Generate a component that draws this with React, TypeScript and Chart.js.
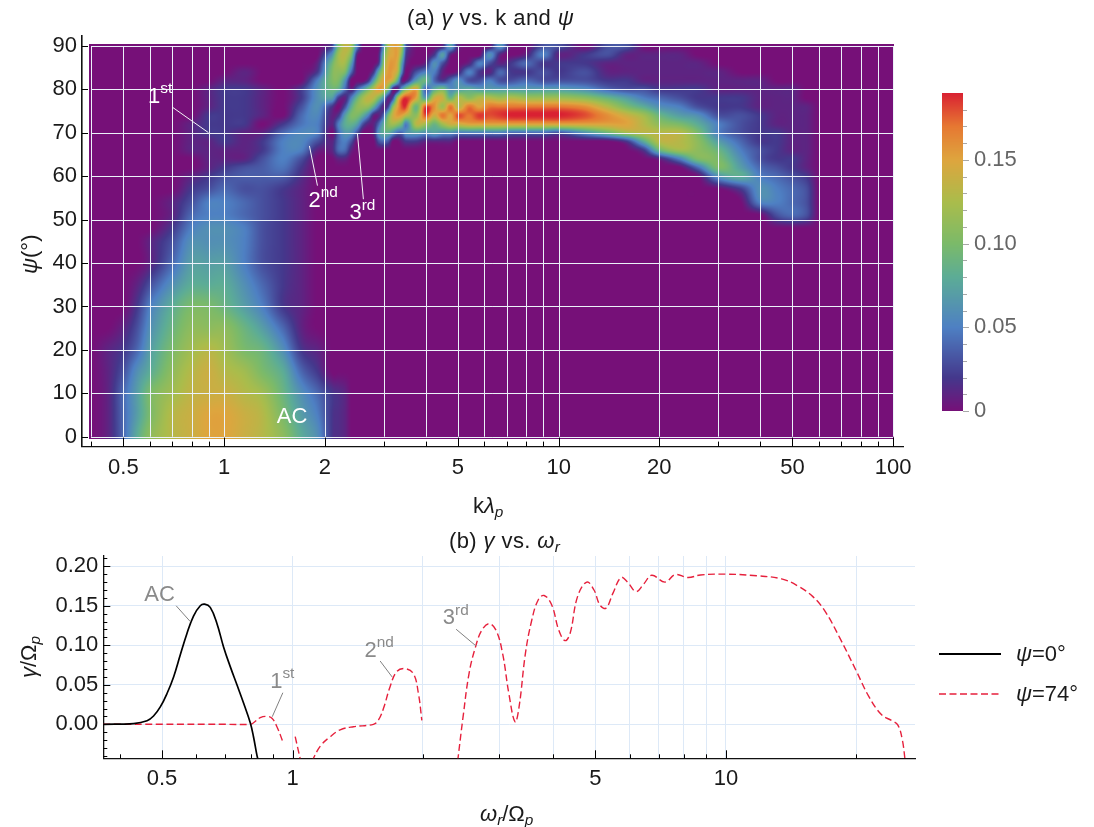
import React, { useEffect, useRef } from "react";
import { Chart, registerables } from "chart.js";

Chart.register(...registerables);

const FONT = '"Liberation Sans"';
Chart.defaults.font.family = FONT;

// ---------- panel (a): growth rate grid (values in units of 0.01) ----------
const kGrid = [
  0.4, 0.45, 0.5, 0.55, 0.6, 0.7, 0.8, 0.9, 1, 1.15, 1.3, 1.5, 1.7, 1.9, 2.1,
  2.2, 2.3, 2.4, 2.5, 2.6, 2.7, 2.8, 2.9, 3, 3.1, 3.2, 3.3, 3.4, 3.5,
  3.75, 4, 4.25, 4.5, 4.75, 5, 5.4, 5.8, 6.2, 6.7, 7.2, 8, 9, 10, 12, 14, 16, 18, 20, 23, 26,
  30, 35, 40, 45, 50, 55, 60, 70, 100,
];
const psiGrid = [90, 88, 86, 84, 82, 80, 78, 76, 74, 72, 70, 68, 66, 64, 62, 60, 57, 54, 51, 48, 45, 40, 35, 30, 25, 20, 15, 10, 5, 0];
const gammaGrid: number[][] = [
  [0,0,0,0,0, 0,0,0,0,0, 0,0,0,0,2, 10,13.5,12,5,0,0,0,0,6,13,15,15,12,3, 0,0,0, 1,7,1,0,0, 0,6,0,0,3, 3,0,3,3,0],
  [0,0,0,0,0, 0,0,0,0,0, 0,0,0,0,6, 12,13,10,1,0,0,0,1,9,14,15,15,10,2, 0,0,2, 7,1,0,0,0, 6,1,0,1,5, 1,2,3,1,1, 1,1],
  [0,0,0,0,0, 0,0,0,0,0, 0,0,0,1,9, 12,12,7,0,0,0,0,2,11,15,15.5,14,7,1, 0,1,6, 3,0,0,1,5, 3,1,2,4,2, 2,2,1,1,1, 1,1,1],
  [0,0,0,0,0, 0,0,0,0,1, 0,0,0,2,10, 11,10,4,0,0,0,2,8,13,15.5,15,13,5,0, 3,5,5, 1,0,1,5,2, 1,4,2,2,3, 2,3,1,1,1, 1,1,1,1],
  [0,0,0,0,0, 0,0,0,1,1, 0,0,0,5,10, 10,6,0,0,0,2,7,12,15,15,13,8,1,1, 7,9,4, 2,4,6,3,3, 5,3,3,4,3, 3,3,2,2,1, 1,1,1,1,1, 1],
  [0,0,0,0,0, 0,0,1,2,2, 1,0,2,6,9, 8,4,1,4,7,10,13,15.5,14,9,1,1,7,11, 15,4,8, 10,6,7,8,7, 7,7,7,7,7, 7,6,4,3,3, 2,2,2,1,1, 1,1,1],
  [0,0,0,0,0, 0,0,1,2,2, 1,0,2,6,7, 2,1,5,9,12,13.5,13,10,6,1,3,12,17,18.5, 15,7,14, 14,9,13,11,13, 13,12,13,12,12, 12,11,9,7,5, 4,3,2,2,2, 1,1,1],
  [0,0,0,0,0, 0,0,1,2,2, 1,0,3,6,2, 0,3,8,11,11.5,11,8,4,1,3,11,15,18,18, 9,18,16, 12,17,13,17,15, 17,17,17,17,17, 17,16,13,10,8, 6,5,3,2,2, 1,1,1,1],
  [0,0,0,0,0, 0,0,2,2,2, 1,0,4,5.5,1, 2,7,10,10,8,5,1,1,4,10,14,15.5,15,13, 11,18,14, 17,15,18,17,18.5, 18,18.5,19,19,19, 19,18,16,14,12, 9,7,6,3,3, 2,1,1,1],
  [0,0,0,0,0, 0,1,2,2,2, 0,2,4.5,5,1, 5,8,8.5,7,3,1,1,4,8,11,12,11,9,5, 13,12,9, 12,14,14,15,15, 15,15,15,15,15, 15,15,15,15,13, 11,10,8,5,3, 2,1,1,1],
  [0,0,0,0,0, 0,1,2,2,1, 1,4,5.5,5,0, 4,6.5,6,3,0,0,1,6,8,8,6,4,4,6, 7,6,7, 6,6,5,5,5, 5,5,4,4,4, 3,6,9,12,13, 13,13,10,5,3, 2,2,1,1],
  [0,0,0,0,0, 0,1,1,2,1, 2,5,5.5,3,1, 4,5,3,0,0,0,0,3,4,3,0,0,1,2, 2,1,1, 1,1,0,0,0, 0,0,0,0,0, 0,0,0,2,8, 13,13,11,7,4, 2,2,1,1],
  [0,0,0,0,0, 0,1,1,1,1, 2,5,5,1,1, 4,4,1,0,0,0,0,0,0,0,0,0,0,0, 0,0,0, 0,0,0,0,0, 0,0,0,0,0, 0,0,0,0,2, 9,12,11,9,5, 3,2,1,1],
  [0,0,0,0,0, 0,0,1,1,1, 3,5,3,0,0, 1,1,0,0,0,0,0,0,0,0,0,0,0,0, 0,0,0, 0,0,0,0,0, 0,0,0,0,0, 0,0,0,0,0, 1,5,10,10,6, 3,2,2,1],
  [0,0,0,0,0, 0,0,1,2,3, 3.5,4.5,2,0,0, 0,0,0,0,0,0,0,0,0,0,0,0,0,0, 0,0,0, 0,0,0,0,0, 0,0,0,0,0, 0,0,0,0,0, 0,0,4,10,7, 4,3,2,1],
  [0,0,0,0,0, 0,1,2,3,3.5, 3.5,3.5,1.5,0,0, 0,0,0,0,0,0,0,0,0,0,0,0,0,0, 0,0,0, 0,0,0,0,0, 0,0,0,0,0, 0,0,0,0,0, 0,0,0,6,8, 5,4,3,2],
  [0,0,0,0,0, 0,2,3,4,3, 3,2,1,0,0, 0,0,0,0,0,0,0,0,0,0,0,0,0,0, 0,0,0, 0,0,0,0,0, 0,0,0,0,0, 0,0,0,0,0, 0,0,0,0,2, 6,5,4,3],
  [0,0,0,0,0, 1,3,5,5,4, 3,2,1,0,0, 0,0,0,0,0,0,0,0,0,0,0,0,0,0, 0,0,0, 0,0,0,0,0, 0,0,0,0,0, 0,0,0,0,0, 0,0,0,0,0, 5,5,4,3],
  [0,0,0,0,0, 1,4,5,5,4, 3,2,1,0,0, 0,0,0,0,0,0,0,0,0,0,0,0,0,0, 0,0,0, 0,0,0,0,0, 0,0,0,0,0, 0,0,0,0,0, 0,0,0,0,0, 0,3,4,3],
  [0,0,0,0,0, 2,5,6,6,5, 3,2,1],
  [0,0,0,0,1, 3,6,6,6,5, 3,2,1],
  [0,0,0,0,1, 4,7,7,7,5, 3,2,1],
  [0,0,0,1,3, 6,8,8,8,6, 4,2,1],
  [0,0,0,2,5, 8,10,10,9,7, 5,2,1],
  [0,0,1,3,6, 9,11,11,11,9, 7,4,1],
  [0,1,2,4,7, 10,12,13,12,10, 9,6,2,1],
  [0,1,3,6,8, 11,13,14,13,12, 10,8,4,2],
  [0,1,4,7,10, 12,13.5,14,14,13, 12,9,6,4,2, 1.5,1],
  [0,1,4,7,10, 13,14,15,15,14, 13,10,7,5,2, 1.5,1],
  [0,1,4,8,11, 13,14,15,15,14, 13,11,8,6,2, 1.5,1],
];
const kTicks = [0.4, 0.5, 0.6, 0.7, 0.8, 0.9, 1, 2, 3, 4, 5, 6, 7, 8, 9, 10, 20, 30, 40, 50, 60, 70, 80, 90, 100];
const kLabels = [0.5, 1, 2, 5, 10, 20, 50, 100];
const psiTicks = [0, 10, 20, 30, 40, 50, 60, 70, 80, 90];

// ---------- colour bar ----------
const barTicks = [0, 0.05, 0.1, 0.15];
const barMinorTicks = [0.01, 0.02, 0.03, 0.04, 0.06, 0.07, 0.08, 0.09, 0.11, 0.12, 0.13, 0.14, 0.16, 0.17, 0.18];
const colorValues = [0, 0.02, 0.05, 0.08, 0.1, 0.125, 0.15, 0.17, 0.19];
const colorRGB = [
  [118, 16, 120], [68, 56, 140], [78, 128, 195], [92, 172, 150], [123, 186, 105],
  [170, 188, 75], [222, 165, 62], [230, 120, 50], [217, 33, 50],
];

// ---------- panel (b) ----------
const w0 = [0.366, 0.43, 0.4618, 0.478, 0.4954, 0.5134, 0.5317, 0.551, 0.5708, 0.591, 0.6126, 0.627, 0.646, 0.669, 0.6933, 0.7184, 0.7444, 0.771, 0.799, 0.813, 0.8277, 0.8366];
const g0 = [0, 0.001, 0.0046, 0.0105, 0.022, 0.039, 0.06, 0.088, 0.115, 0.137, 0.15, 0.152, 0.148, 0.128, 0.098, 0.073, 0.05, 0.027, 0.002, -0.016, -0.039, -0.049];
const w74 = [
  0.366, 0.5, 0.7, 0.799, 0.813, 0.8425, 0.873, 0.8965, 0.9205, 0.953, 0.98, 1.0144, 1.045, 1.07, 1.108, 1.158, 1.222, 1.288, 1.382, 1.537, 1.579, 1.621, 1.68,
  1.741, 1.819, 1.901, 1.952, 1.988, 2.2, 2.404, 2.475, 2.555, 2.644, 2.733, 2.841, 2.949, 3.052, 3.156, 3.262, 3.332, 3.447, 3.565, 3.686, 3.805,
  3.964, 4.115, 4.254, 4.369, 4.546, 4.774, 4.961, 5.12, 5.287, 5.488, 5.726, 5.929, 6.203, 6.469, 6.742, 7.234, 7.643, 8.176, 8.73, 10, 11.77,
  13.44, 14.66, 15.87, 16.95, 18.32, 20.02, 21.37, 22.86, 24.15, 24.93, 25.53, 25.92,
];
const g74: (number | null)[] = [
  0, 0, 0, 0, 0.002, 0.0084, 0.01, 0.0076, -0.003, -0.024, null, -0.0156, -0.047, null, -0.047, -0.028, -0.0156, -0.007, -0.003, 0, 0.0055, 0.02, 0.048,
  0.067, 0.0705, 0.064, 0.039, 0.005, null, -0.047, 0.0097, 0.0646, 0.098, 0.119, 0.1274, 0.119, 0.09, 0.039, 0.003, 0.022, 0.09, 0.132, 0.157, 0.163,
  0.151, 0.119, 0.106, 0.115, 0.1616, 0.18, 0.17, 0.151, 0.147, 0.166, 0.1857, 0.18, 0.168, 0.178, 0.1886, 0.18, 0.1895, 0.1857, 0.189, 0.19, 0.188,
  0.184, 0.175, 0.1616, 0.1426, 0.109, 0.0667, 0.035, 0.012, 0.0046, -0.001, -0.02, -0.047,
];
const wGridTicks = [0.5, 1, 2, 3, 4, 5, 6, 7, 8, 9, 10, 20];
const wMarks = [0.4, 0.5, 0.6, 0.7, 0.8, 0.9, 1, 2, 3, 4, 5, 6, 7, 8, 9, 10, 20];
const wLabels = [0.5, 1, 5, 10];
const gammaTicks = [0, 0.05, 0.1, 0.15, 0.2];
const gammaMinor = [-0.04, -0.03, -0.02, -0.01, 0.01, 0.02, 0.03, 0.04, 0.06, 0.07, 0.08, 0.09, 0.11, 0.12, 0.13, 0.14, 0.16, 0.17, 0.18, 0.19, 0.21];

// ---------- text ----------
type Seg = { t: string; i?: boolean; sub?: boolean; sup?: boolean };
const ord = (n: string, s: string): Seg[] => [{ t: n }, { t: s, sup: true }];
const topNotes: { text: Seg[]; k: number; psi: number }[] = [
  { text: ord("1", "st"), k: 0.5925, psi: 76.96 },
  { text: ord("2", "nd"), k: 1.787, psi: 53.0 },
  { text: ord("3", "rd"), k: 2.37, psi: 50.1 },
  { text: [{ t: "AC" }], k: 1.437, psi: 3.23 },
];
const topLeaders = [
  [0.7004, 75.9, 0.8976, 70.05],
  [1.799, 66.98, 1.901, 57.83],
  [2.503, 69.9, 2.608, 54.7],
];
const botNotes: { text: Seg[]; w: number; g: number }[] = [
  { text: [{ t: "AC" }], w: 0.455, g: 0.1565 },
  { text: ord("1", "st"), w: 0.888, g: 0.0463 },
  { text: ord("2", "nd"), w: 1.466, g: 0.0856 },
  { text: ord("3", "rd"), w: 2.222, g: 0.1266 },
];
const botLeaders = [
  [0.539, 0.15, 0.581, 0.13],
  [0.95, 0.04, 0.898, 0.0096],
  [1.593, 0.0801, 1.698, 0.0599],
  [2.385, 0.1203, 2.652, 0.0991],
];

function drawRich(ctx: CanvasRenderingContext2D, segs: Seg[], x: number, y: number, size: number, color: string, rot = 0, spacing = 0) {
  ctx.save();
  ctx.translate(x, y);
  ctx.rotate(rot);
  ctx.fillStyle = color;
  ctx.textAlign = "left";
  ctx.textBaseline = "alphabetic";
  (ctx as any).letterSpacing = `${spacing}px`;
  let cx = 0;
  for (const s of segs) {
    const small = s.sub || s.sup;
    ctx.font = `${s.i ? "italic " : ""}${small ? size * 0.7 : size}px ${FONT}`;
    ctx.fillText(s.t, cx, s.sub ? size * 0.2 : s.sup ? -size * 0.42 : 0);
    cx += ctx.measureText(s.t).width;
  }
  ctx.restore();
}

function colorAt(v: number): number[] {
  if (v <= colorValues[0]) return colorRGB[0];
  for (let i = 1; i < colorValues.length; i++) {
    if (v <= colorValues[i]) {
      const t = (v - colorValues[i - 1]) / (colorValues[i] - colorValues[i - 1]);
      return colorRGB[i].map((c, n) => colorRGB[i - 1][n] + (c - colorRGB[i - 1][n]) * t);
    }
  }
  return colorRGB[colorRGB.length - 1];
}

function tickLine(ctx: CanvasRenderingContext2D, x0: number, y0: number, x1: number, y1: number) {
  ctx.beginPath();
  ctx.moveTo(x0, y0);
  ctx.lineTo(x1, y1);
  ctx.stroke();
}

const smoothWeights = (t: number) => [
  -0.5 * t + t * t - 0.5 * t * t * t,
  1 - 2.5 * t * t + 1.5 * t * t * t,
  0.5 * t + 2 * t * t - 1.5 * t * t * t,
  -0.5 * t * t + 0.5 * t * t * t,
];
const zeroPad = (y: any) => ((y.paddingTop = 0), (y.paddingBottom = 0), (y.paddingLeft = 0), (y.paddingRight = 0));

// the heat map: every pixel is looked up in the grid through the chart's own scales
const heatPlugin = {
  id: "heat",
  beforeDraw(chart: any) {
    const { x, y } = chart.scales;
    const ctx = chart.ctx;
    const x0 = Math.round(x.getPixelForValue(0.395));
    const x1 = Math.round(x.getPixelForValue(100.5));
    const y0 = Math.round(y.getPixelForValue(90.5));
    const y1 = Math.round(y.getPixelForValue(-0.55));
    const W = x1 - x0;
    const H = y1 - y0;
    const off = document.createElement("canvas");
    off.width = W;
    off.height = H;
    const octx = off.getContext("2d")!;
    const img = octx.createImageData(W, H);
    const nk = kGrid.length;
    const np = psiGrid.length;
    const dense = gammaGrid.map((r) => kGrid.map((_, i) => r[i] ?? 0));
    const lk = kGrid.map((k) => Math.log10(k));
    const cols: { i: number; w: number[] }[] = [];
    for (let px = 0; px < W; px++) {
      const v = Math.log10(x.getValueForPixel(x0 + px + 0.5));
      let i = 0;
      while (i < nk - 2 && lk[i + 1] < v) i++;
      const t = Math.min(1, Math.max(0, (v - lk[i]) / (lk[i + 1] - lk[i])));
      cols.push({ i, w: smoothWeights(t) });
    }
    const line = new Float64Array(nk);
    for (let py = 0; py < H; py++) {
      const p = y.getValueForPixel(y0 + py + 0.5);
      let j = 0;
      while (j < np - 2 && psiGrid[j + 1] > p) j++;
      const u = Math.min(1, Math.max(0, (psiGrid[j] - p) / (psiGrid[j] - psiGrid[j + 1])));
      const wr = smoothWeights(u);
      const r0 = dense[Math.max(0, j - 1)];
      const r1 = dense[j];
      const r2 = dense[j + 1];
      const r3 = dense[Math.min(np - 1, j + 2)];
      for (let n = 0; n < nk; n++) line[n] = r0[n] * wr[0] + r1[n] * wr[1] + r2[n] * wr[2] + r3[n] * wr[3];
      for (let px = 0; px < W; px++) {
        const { i, w } = cols[px];
        const val =
          line[Math.max(0, i - 1)] * w[0] + line[i] * w[1] + line[i + 1] * w[2] + line[Math.min(nk - 1, i + 2)] * w[3];
        const c = colorAt(val * 0.01);
        const o = (py * W + px) * 4;
        img.data[o] = c[0];
        img.data[o + 1] = c[1];
        img.data[o + 2] = c[2];
        img.data[o + 3] = 255;
      }
    }
    octx.putImageData(img, 0, 0);
    ctx.drawImage(off, x0, y0);
    // white mesh, only inside the frame of the image
    ctx.save();
    ctx.strokeStyle = "#ebf1f9";
    ctx.lineWidth = 1;
    const gx0 = x.getPixelForValue(kTicks[0]);
    const gx1 = x.getPixelForValue(kTicks[kTicks.length - 1]);
    const gy0 = y.getPixelForValue(psiTicks[0]);
    const gy1 = y.getPixelForValue(psiTicks[psiTicks.length - 1]);
    for (const t of kTicks) {
      const px = Math.round(x.getPixelForValue(t)) + 0.5;
      tickLine(ctx, px, gy0, px, gy1);
    }
    for (const t of psiTicks) {
      const py = Math.round(y.getPixelForValue(t)) + 0.5;
      tickLine(ctx, gx0, py, gx1, py);
    }
    ctx.restore();
  },
  afterDraw(chart: any) {
    const { x, y } = chart.scales;
    const ctx = chart.ctx;
    const { left, bottom } = chart.chartArea;
    ctx.save();
    ctx.strokeStyle = "#000";
    ctx.lineWidth = 1;
    for (const t of kTicks) {
      const px = Math.round(x.getPixelForValue(t)) + 0.5;
      tickLine(ctx, px, bottom, px, bottom - (kLabels.includes(t) ? 9 : 5));
    }
    for (const t of psiTicks) {
      const py = Math.round(y.getPixelForValue(t)) + 0.5;
      tickLine(ctx, left, py, left + 6, py);
    }
    ctx.strokeStyle = "#f4f4f8";
    for (const l of topLeaders) {
      tickLine(ctx, x.getPixelForValue(l[0]), y.getPixelForValue(l[1]), x.getPixelForValue(l[2]), y.getPixelForValue(l[3]));
    }
    ctx.restore();
    for (const n of topNotes) {
      drawRich(ctx, n.text, x.getPixelForValue(n.k), y.getPixelForValue(n.psi), 22, "#ffffff");
    }
    drawRich(ctx, [{ t: "(a) " }, { t: "γ", i: true }, { t: " vs. k and " }, { t: "ψ", i: true }], 407, 25, 22, "#1a1a1a", 0, 0.4);
    drawRich(ctx, [{ t: "k" }, { t: "λ", i: true }, { t: "p", i: true, sub: true }], 473, 513, 22, "#1a1a1a");
    drawRich(ctx, [{ t: "ψ", i: true }, { t: "(°)" }], 37, 274, 22, "#1a1a1a", -Math.PI / 2);
  },
};

const linePlugin = {
  id: "lineExtras",
  afterDraw(chart: any) {
    const { x, y } = chart.scales;
    const ctx = chart.ctx;
    const { left, bottom } = chart.chartArea;
    ctx.save();
    ctx.strokeStyle = "#000";
    ctx.lineWidth = 1;
    for (const t of wMarks) {
      const px = Math.round(x.getPixelForValue(t)) + 0.5;
      tickLine(ctx, px, bottom, px, bottom - (wLabels.includes(t) ? 8 : 4));
    }
    for (const t of gammaTicks) {
      const py = Math.round(y.getPixelForValue(t)) + 0.5;
      tickLine(ctx, left, py, left + 7, py);
    }
    for (const t of gammaMinor) {
      const py = Math.round(y.getPixelForValue(t)) + 0.5;
      tickLine(ctx, left, py, left + 4, py);
    }
    ctx.strokeStyle = "#808080";
    for (const l of botLeaders) {
      tickLine(ctx, x.getPixelForValue(l[0]), y.getPixelForValue(l[1]), x.getPixelForValue(l[2]), y.getPixelForValue(l[3]));
    }
    // legend
    chart.data.datasets.forEach((d: any, i: number) => {
      const ly = 124 + i * 40;
      ctx.strokeStyle = d.borderColor;
      ctx.lineWidth = i === 0 ? 2 : d.borderWidth;
      ctx.setLineDash(d.borderDash || []);
      tickLine(ctx, 939, ly, 1001, ly);
      ctx.setLineDash([]);
      drawRich(ctx, [{ t: "ψ", i: true }, { t: d.label }], 1016, ly + 7, 22, "#1a1a1a");
    });
    ctx.restore();
    for (const n of botNotes) {
      drawRich(ctx, n.text, x.getPixelForValue(n.w), y.getPixelForValue(n.g), 22, "#8a8a8a");
    }
    drawRich(ctx, [{ t: "(b) " }, { t: "γ", i: true }, { t: " vs. " }, { t: "ω", i: true }, { t: "r", i: true, sub: true }], 449, 18, 22, "#1a1a1a", 0, 0.4);
    drawRich(ctx, [{ t: "ω", i: true }, { t: "r", i: true, sub: true }, { t: "/Ω" }, { t: "p", i: true, sub: true }], 480, 291, 22, "#1a1a1a");
    drawRich(ctx, [{ t: "γ", i: true }, { t: "/Ω" }, { t: "p", i: true, sub: true }], 36, 148, 22, "#1a1a1a", -Math.PI / 2);
  },
};

const barPlugin = {
  id: "bar",
  beforeDraw(chart: any) {
    const { y } = chart.scales;
    const ctx = chart.ctx;
    const { left, right, top, bottom } = chart.chartArea;
    for (let py = Math.round(top); py < Math.round(bottom); py++) {
      const c = colorAt(y.getValueForPixel(py + 0.5));
      ctx.fillStyle = `rgb(${c[0]},${c[1]},${c[2]})`;
      ctx.fillRect(left, py, right - left, 1);
    }
  },
  afterDraw(chart: any) {
    const { y } = chart.scales;
    const ctx = chart.ctx;
    const { right } = chart.chartArea;
    ctx.save();
    ctx.strokeStyle = "#a8a8a8";
    ctx.lineWidth = 1;
    for (const t of barTicks) {
      const py = Math.round(y.getPixelForValue(t)) + 0.5;
      tickLine(ctx, right, py, right + 6, py);
    }
    for (const t of barMinorTicks) {
      const py = Math.round(y.getPixelForValue(t)) + 0.5;
      tickLine(ctx, right, py, right + 4, py);
    }
    ctx.restore();
  },
};

const tickFont = { size: 22, family: FONT };

export default function App() {
  const topRef = useRef<HTMLCanvasElement>(null);
  const barRef = useRef<HTMLCanvasElement>(null);
  const botRef = useRef<HTMLCanvasElement>(null);

  useEffect(() => {
    const top = new Chart(topRef.current!, {
      type: "scatter",
      data: {
        datasets: [
          {
            label: "gamma",
            data: psiGrid.flatMap((p, j) => kGrid.map((k, i) => ({ x: k, y: p, v: (gammaGrid[j][i] ?? 0) * 0.01 }))) as any,
            pointRadius: 0,
            showLine: false,
          },
        ],
      },
      options: {
        responsive: false,
        animation: false,
        events: [],
        layout: { padding: { left: 0, right: 191, top: 36, bottom: 0 } },
        plugins: { legend: { display: false }, tooltip: { enabled: false } },
        scales: {
          x: {
            type: "logarithmic",
            min: 0.376,
            max: 107,
            afterBuildTicks: (a: any) => { a.ticks = kTicks.map((value) => ({ value })); },
            afterFit: (a: any) => { a.height = 83.4; zeroPad(a); },
            grid: { display: false, drawTicks: false },
            border: { display: true, color: "#111", width: 1.3 },
            ticks: {
              autoSkip: false, maxRotation: 0, minRotation: 0, padding: 8, color: "#1a1a1a", font: tickFont,
              callback: (v: any) => (kLabels.includes(Number(v)) ? String(v) : ""),
            },
          },
          y: {
            type: "linear",
            min: -2.28,
            max: 92.3,
            afterBuildTicks: (a: any) => { a.ticks = psiTicks.map((value) => ({ value })); },
            afterFit: (a: any) => { a.width = 82; zeroPad(a); },
            grid: { display: false, drawTicks: false },
            border: { display: true, color: "#111", width: 1.6 },
            ticks: { autoSkip: false, padding: 5, color: "#1a1a1a", font: tickFont, callback: (v: any) => String(v) },
          },
        },
      },
      plugins: [heatPlugin],
    } as any);

    const bar = new Chart(barRef.current!, {
      type: "scatter",
      data: { datasets: [{ label: "scale", data: colorValues.map((v) => ({ x: 0, y: v })), pointRadius: 0 }] },
      options: {
        responsive: false,
        animation: false,
        events: [],
        layout: { padding: { left: 22, right: 0, top: 23, bottom: 19 } },
        plugins: { legend: { display: false }, tooltip: { enabled: false } },
        scales: {
          x: { display: false, min: 0, max: 1 },
          y: {
            position: "right",
            min: 0,
            max: 0.19,
            afterBuildTicks: (a: any) => { a.ticks = barTicks.map((value) => ({ value })); },
            afterFit: (a: any) => { a.width = 131; zeroPad(a); },
            grid: { display: false, drawTicks: false },
            border: { display: false },
            ticks: {
              autoSkip: false, padding: 11, color: "#666", font: tickFont,
              callback: (v: any) => (Number(v) === 0 ? "0" : Number(v).toFixed(2)),
            },
          },
        },
      },
      plugins: [barPlugin],
    } as any);

    const bot = new Chart(botRef.current!, {
      type: "scatter",
      data: {
        datasets: [
          {
            label: "=0°",
            data: w0.map((x, i) => ({ x, y: g0[i] })),
            showLine: true,
            pointRadius: 0,
            borderColor: "#000000",
            borderWidth: 1.7,
            tension: 0.4,
          },
          {
            label: "=74°",
            data: w74.map((x, i) => ({ x, y: g74[i] })),
            showLine: true,
            spanGaps: false,
            pointRadius: 0,
            borderColor: "#e6203c",
            borderWidth: 1.4,
            borderDash: [7, 3.5],
            tension: 0.4,
          },
        ],
      },
      options: {
        responsive: false,
        animation: false,
        events: [],
        layout: { padding: { left: 0, right: 179, top: 26, bottom: 0 } },
        plugins: { legend: { display: false }, tooltip: { enabled: false } },
        scales: {
          x: {
            type: "logarithmic",
            min: 0.366,
            max: 27.3,
            afterBuildTicks: (a: any) => { a.ticks = wGridTicks.map((value) => ({ value })); },
            afterFit: (a: any) => { a.height = 68.7; zeroPad(a); },
            grid: { color: "#dde9f7", lineWidth: 1, drawTicks: false },
            border: { display: true, color: "#111", width: 1.3 },
            ticks: {
              autoSkip: false, maxRotation: 0, minRotation: 0, padding: 7, color: "#1a1a1a", font: tickFont,
              callback: (v: any) => (wLabels.includes(Number(v)) ? String(v) : ""),
            },
          },
          y: {
            type: "linear",
            min: -0.043,
            max: 0.213,
            afterBuildTicks: (a: any) => { a.ticks = gammaTicks.map((value) => ({ value })); },
            afterFit: (a: any) => { a.width = 103.3; zeroPad(a); },
            grid: { color: "#dde9f7", lineWidth: 1, drawTicks: false },
            border: { display: true, color: "#111", width: 1.3 },
            ticks: { autoSkip: false, padding: 5, color: "#1a1a1a", font: tickFont, callback: (v: any) => Number(v).toFixed(2) },
          },
        },
      },
      plugins: [linePlugin],
    } as any);

    return () => {
      top.destroy();
      bar.destroy();
      bot.destroy();
    };
  }, []);

  const abs = (left: number, topPx: number): React.CSSProperties => ({ position: "absolute", left, top: topPx, display: "block" });
  return (
    <div style={{ position: "absolute", left: 0, top: 0, width: 1094, height: 827, background: "#fff", overflow: "hidden" }}>
      <canvas ref={topRef} width={1094} height={530} style={abs(0, 0)} />
      <canvas ref={barRef} width={174} height={360} style={abs(920, 70)} />
      <canvas ref={botRef} width={1094} height={297} style={abs(0, 530)} />
    </div>
  );
}
